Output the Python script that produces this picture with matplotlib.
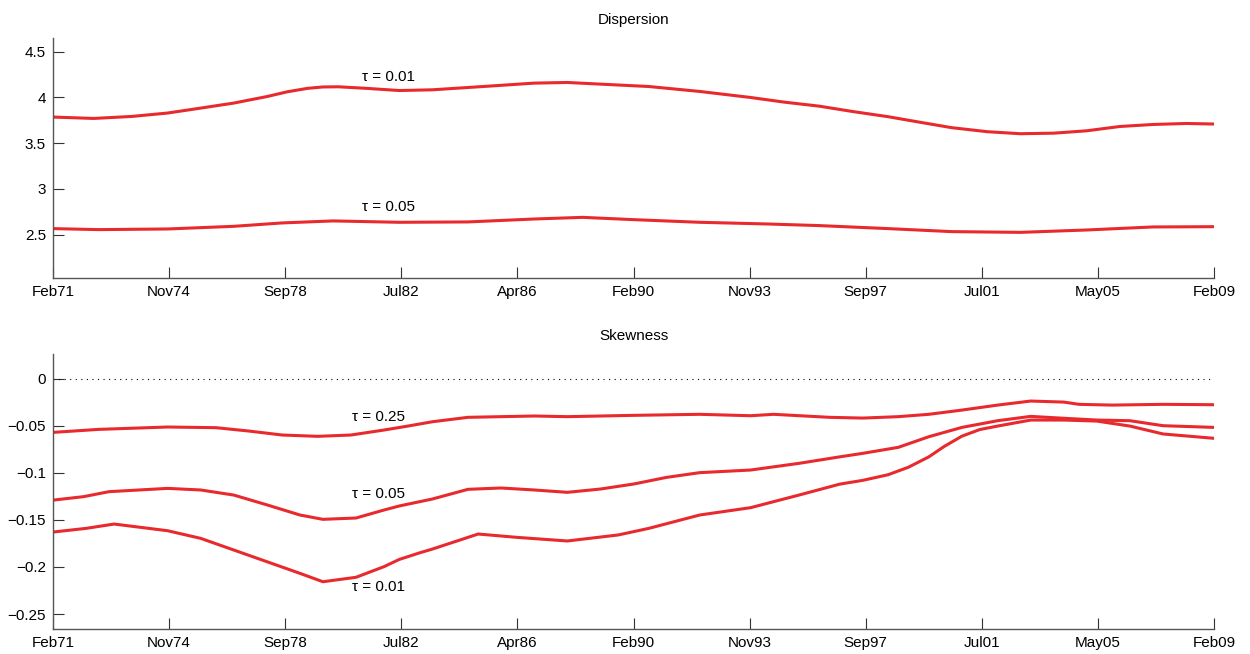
import numpy as np
import matplotlib
matplotlib.use('Agg')
import matplotlib.pyplot as plt

plt.rcParams['font.family'] = ['Liberation Sans', 'DejaVu Sans']

# months since Feb71 (0 .. 456 = Feb09)
tick_labels = ['Feb71', 'Nov74', 'Sep78', 'Jul82', 'Apr86', 'Feb90',
               'Nov93', 'Sep97', 'Jul01', 'May05', 'Feb09']

# ---------------- dispersion ----------------
disp01_m = [0, 16, 31, 45, 58, 71, 84, 92, 100, 106, 112, 123, 136, 149, 169, 189, 202,
            215, 234, 254, 274, 287, 301, 314, 328, 341, 353, 367, 380, 393, 406,
            419, 432, 445, 456]
disp01 = [3.786, 3.771, 3.793, 3.83, 3.884, 3.939, 4.01, 4.062, 4.1, 4.115, 4.117, 4.10,
          4.076, 4.084, 4.12, 4.157, 4.164, 4.146, 4.12, 4.066, 4.0, 3.95, 3.905,
          3.847, 3.79, 3.727, 3.67, 3.626, 3.604, 3.61, 3.636, 3.683, 3.705, 3.716, 3.71]

disp05_m = [0, 18, 45, 71, 90, 110, 136, 163, 189, 208, 228, 254, 280, 301, 328,
            353, 380, 406, 432, 456]
disp05 = [2.567, 2.556, 2.563, 2.592, 2.629, 2.651, 2.636, 2.64, 2.672, 2.69, 2.665,
          2.636, 2.618, 2.60, 2.567, 2.534, 2.526, 2.552, 2.585, 2.588]

# ---------------- skewness ----------------
skew25_m = [0, 18, 45, 64, 77, 90, 104, 117, 130, 140, 149, 163, 189, 202, 228, 254,
            274, 283, 305, 318, 332, 344, 357, 371, 384, 397, 403, 416, 436, 456]
skew25 = [-0.057, -0.0538, -0.0513, -0.052, -0.0556, -0.0598, -0.0612, -0.0598,
          -0.0545, -0.05, -0.0457, -0.041, -0.0396, -0.0403, -0.0389, -0.0378,
          -0.0393, -0.0378, -0.041, -0.0418, -0.0403, -0.0378, -0.0333, -0.028,
          -0.0237, -0.0248, -0.0272, -0.028, -0.0272, -0.0276]

skew05_m = [0, 12, 22, 45, 58, 71, 84, 97, 106, 119, 130, 136, 149, 163, 176, 189,
            202, 215, 228, 241, 254, 274, 293, 309, 318, 332, 344, 357, 371, 384,
            397, 410, 423, 436, 456]
skew05 = [-0.129, -0.1253, -0.12, -0.1165, -0.1182, -0.1236, -0.134, -0.1448,
          -0.1494, -0.148, -0.1395, -0.1352, -0.1278, -0.1175, -0.1161, -0.1182,
          -0.1207, -0.1172, -0.1119, -0.1048, -0.0998, -0.097, -0.0899, -0.083,
          -0.0793, -0.0729, -0.0616, -0.0517, -0.0446, -0.040, -0.042, -0.0439,
          -0.0446, -0.0499, -0.0517]

skew01_m = [0, 13, 24, 45, 58, 71, 84, 97, 106, 119, 130, 136, 144, 149, 167, 182,
            202, 222, 234, 254, 274, 293, 309, 318, 328, 336, 344, 350, 357, 364,
            371, 384, 397, 410, 423, 436, 456]
skew01 = [-0.1629, -0.159, -0.1544, -0.1615, -0.1696, -0.182, -0.1944, -0.2068,
          -0.2157, -0.211, -0.1997, -0.192, -0.185, -0.181, -0.165, -0.1685,
          -0.1724, -0.166, -0.159, -0.1448, -0.137, -0.1236, -0.112, -0.108,
          -0.102, -0.094, -0.083, -0.072, -0.061, -0.054, -0.0503, -0.0439,
          -0.0439, -0.045, -0.0503, -0.0587, -0.0633]

red = '#e8292d'
spine_col = '#555555'


def style_axis(ax):
    ax.spines['top'].set_visible(False)
    ax.spines['right'].set_visible(False)
    for s in ('left', 'bottom'):
        ax.spines[s].set_color(spine_col)
        ax.spines[s].set_linewidth(1.0)
    ax.tick_params(direction='in', length=8, width=0.8, color='#333333',
                   labelsize=11, pad=5)
    ax.set_xlim(0, 456)
    ax.set_xticks(np.linspace(0, 456, 11))
    ax.set_xticklabels(tick_labels)


fig = plt.figure(figsize=(12.5, 6.54), dpi=100)

ax1 = fig.add_axes([0.0424, 0.5749, 0.9288, 0.3674])
ax1.plot(disp01_m, disp01, color=red, lw=2.2)
ax1.plot(disp05_m, disp05, color=red, lw=2.2)
ax1.set_ylim(2.027, 4.653)
ax1.set_yticks([2.5, 3, 3.5, 4, 4.5])
ax1.set_yticklabels(['2.5', '3', '3.5', '4', '4.5'])
style_axis(ax1)
ax1.set_title('Dispersion', fontsize=11, pad=10)
ax1.text(131.6, 4.229, '\u03c4 = 0.01', ha='center', va='center', fontsize=11)
ax1.text(131.6, 2.799, '\u03c4 = 0.05', ha='center', va='center', fontsize=11)

ax2 = fig.add_axes([0.0424, 0.0387, 0.9288, 0.4196])
ax2.axhline(0, color='black', lw=0.8, ls=(0, (1, 4)))
ax2.plot(skew25_m, skew25, color=red, lw=2.2)
ax2.plot(skew05_m, skew05, color=red, lw=2.2)
ax2.plot(skew01_m, skew01, color=red, lw=2.2)
ax2.set_ylim(-0.2656, 0.026)
ax2.set_yticks([-0.25, -0.2, -0.15, -0.1, -0.05, 0])
ax2.set_yticklabels(['\u22120.25', '\u22120.2', '\u22120.15', '\u22120.1', '\u22120.05', '0'])
style_axis(ax2)
ax2.set_title('Skewness', fontsize=11, pad=10)
ax2.text(127.7, -0.0404, '\u03c4 = 0.25', ha='center', va='center', fontsize=11)
ax2.text(127.7, -0.1225, '\u03c4 = 0.05', ha='center', va='center', fontsize=11)
ax2.text(127.7, -0.221, '\u03c4 = 0.01', ha='center', va='center', fontsize=11)

fig.savefig('out.png', dpi=100)
